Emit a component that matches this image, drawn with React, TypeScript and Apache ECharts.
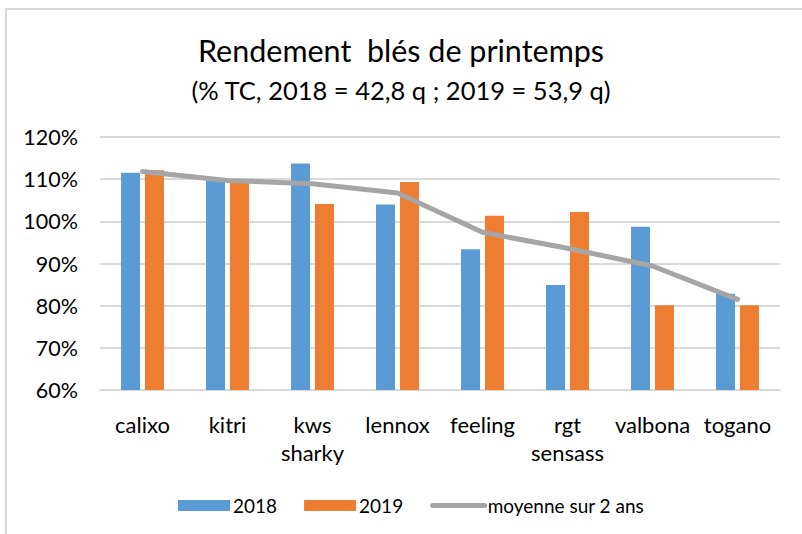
import React, { useEffect, useRef } from "react";
import * as echarts from "echarts";

const categories = ["calixo", "kitri", "kws\nsharky", "lennox", "feeling", "rgt\nsensass", "valbona", "togano"];
const values2018 = [111.5, 109.7, 113.7, 104.0, 93.4, 84.9, 98.7, 82.8];
const values2019 = [112.1, 109.6, 104.1, 109.3, 101.3, 102.2, 80.1, 80.1];
const average2y = [111.8, 109.7, 108.9, 106.7, 97.4, 93.6, 89.4, 81.5];
const yTicks = { min: 60, max: 120, interval: 10 };
const titleText = "Rendement  blés de printemps";
const subtitleText = "(% TC, 2018 = 42,8 q ; 2019 = 53,9 q)";
const seriesNames = ["2018", "2019", "moyenne sur 2 ans"];

const FONT = "Lato";

export default function App() {
  const ref = useRef<HTMLDivElement>(null);
  useEffect(() => {
    if (!ref.current) return;
    const chart = echarts.init(ref.current, undefined, { renderer: "svg" });
    chart.setOption({
      animation: false,
      backgroundColor: "#ffffff",
      textStyle: { fontFamily: FONT },
      title: [
        {
          text: titleText,
          left: "center",
          top: 29,
          padding: [5, 5, 5, 17],
          textStyle: { fontFamily: FONT, fontSize: 30.5, fontWeight: "normal", color: "#000000" },
        },
        {
          text: subtitleText,
          left: "center",
          top: 72,
          textStyle: { fontFamily: FONT, fontSize: 25.5, fontWeight: "normal", color: "#000000" },
        },
      ],
      graphic: [
        {
          type: "rect",
          shape: { x: 6, y: 9, width: 900, height: 700 },
          style: { fill: "none", stroke: "#d9d9d9", lineWidth: 2 },
          silent: true,
        },
      ],
      grid: { left: 100, right: 22, top: 137, bottom: 144 },
      legend: {
        left: 173,
        top: 491,
        itemWidth: 52,
        itemHeight: 11,
        itemGap: 27,
        textStyle: { fontFamily: FONT, fontSize: 19, color: "#000000", padding: [0, 0, 0, -2] },
        data: [
          { name: seriesNames[0], icon: "rect" },
          { name: seriesNames[1], icon: "rect" },
          {
            name: seriesNames[2],
            itemStyle: { opacity: 0 },
            lineStyle: { color: "#a5a5a5", width: 5, cap: "round" },
          },
        ],
      },
      xAxis: {
        type: "category",
        data: categories,
        axisLine: { lineStyle: { color: "#d9d9d9", width: 2 } },
        axisTick: { show: false },
        axisLabel: {
          color: "#000000",
          fontFamily: FONT,
          fontSize: 22,
          margin: 20,
          lineHeight: 28,
          interval: 0,
        },
      },
      yAxis: {
        type: "value",
        min: yTicks.min,
        max: yTicks.max,
        interval: yTicks.interval,
        axisLine: { show: false },
        axisTick: { show: false },
        splitLine: { lineStyle: { color: "#d9d9d9", width: 2 } },
        axisLabel: {
          color: "#000000",
          fontFamily: FONT,
          fontSize: 21.5,
          margin: 22,
          formatter: "{value}%",
        },
      },
      series: [
        {
          name: seriesNames[0],
          type: "bar",
          data: values2018,
          barWidth: 19,
          barGap: "26%",
          itemStyle: { color: "#5b9bd5" },
        },
        {
          name: seriesNames[1],
          type: "bar",
          data: values2019,
          barWidth: 19,
          itemStyle: { color: "#ed7d31" },
        },
        {
          name: seriesNames[2],
          type: "line",
          data: average2y,
          symbol: "none",
          lineStyle: { color: "#a5a5a5", width: 5, cap: "round" },
          itemStyle: { color: "#a5a5a5" },
          z: 5,
        },
      ],
    });
    return () => chart.dispose();
  }, []);
  return (
    <div
      ref={ref}
      style={{ position: "fixed", left: 0, top: 0, width: 802, height: 534 }}
    />
  );
}
